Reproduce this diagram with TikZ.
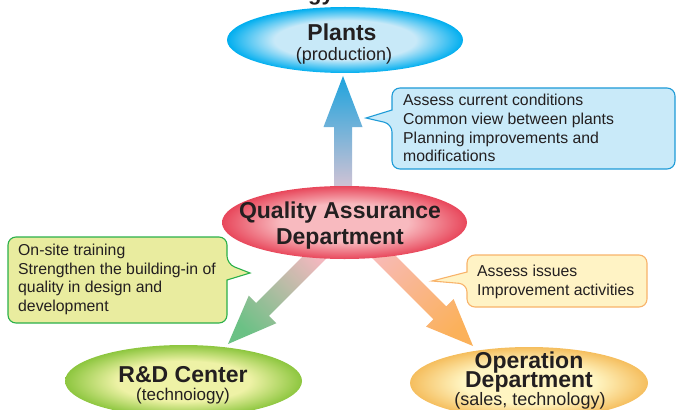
\documentclass[tikz,border=0pt]{standalone}
\usepackage{fontspec}
\setmainfont{Liberation Sans}
\usetikzlibrary{shapes.geometric}
\definecolor{plantin}{HTML}{C8E9F8}
\definecolor{plantout}{HTML}{00AEEF}
\definecolor{qain}{HTML}{F8BABF}
\definecolor{qaout}{HTML}{E8475B}
\definecolor{rdin}{HTML}{EEF2A6}
\definecolor{rdout}{HTML}{8DC63F}
\definecolor{opin}{HTML}{FFF5C2}
\definecolor{opout}{HTML}{F5BE5E}
\definecolor{cbfill}{HTML}{C9EAF9}
\definecolor{cbdraw}{HTML}{1E9BD7}
\definecolor{cgfill}{HTML}{E9EC9F}
\definecolor{cgdraw}{HTML}{2BB04A}
\definecolor{cofill}{HTML}{FFF3C5}
\definecolor{codraw}{HTML}{F8B36A}
\definecolor{arrB}{HTML}{1DA3DD}
\definecolor{arrP}{HTML}{E6C6D3}
\definecolor{arrPk}{HTML}{F3B8BF}
\definecolor{arrG}{HTML}{6BC185}
\definecolor{arrPo}{HTML}{F8BAB6}
\definecolor{arrO}{HTML}{FBB15A}
\definecolor{txt}{HTML}{231F20}
\pgfdeclareradialshading{plantshade}{\pgfpoint{0bp}{0bp}}{color(0bp)=(plantin); color(15bp)=(plantin); color(25bp)=(plantout); color(50bp)=(plantout)}
\pgfdeclareradialshading{qashade}{\pgfpoint{0bp}{0bp}}{color(0bp)=(qain); color(13bp)=(qain); color(25bp)=(qaout); color(50bp)=(qaout)}
\pgfdeclareradialshading{rdshade}{\pgfpoint{0bp}{0bp}}{color(0bp)=(rdin); color(14bp)=(rdin); color(25bp)=(rdout); color(50bp)=(rdout)}
\pgfdeclareradialshading{opshade}{\pgfpoint{0bp}{0bp}}{color(0bp)=(opin); color(14bp)=(opin); color(25bp)=(opout); color(50bp)=(opout)}
\tikzset{
  oval/.style={ellipse, inner sep=0pt, outer sep=0pt, draw=none, shade},
  ttl/.style={anchor=base, inner sep=0pt, text=txt, font=\fontsize{23}{26}\selectfont\bfseries},
  sub/.style={anchor=base, inner sep=0pt, text=txt, font=\fontsize{18}{20}\selectfont},
  ctext/.style={anchor=west, inner sep=0pt, align=left, text=txt, font=\fontsize{15.8}{18.8}\selectfont},
  callB/.style={fill=cbfill, draw=cbdraw, line width=1.1pt},
  callG/.style={fill=cgfill, draw=cgdraw, line width=1.1pt},
  callO/.style={fill=cofill, draw=codraw, line width=1.1pt},
}
\begin{document}
\begin{tikzpicture}[x=1pt,y=-1pt]
\useasboundingbox (0,0) rectangle (676,409);
% title fragment
\node[ttl, font=\fontsize{22}{24}\selectfont\bfseries] (titlefrag) at (321,1) {gy};
% arrows
\shade[top color=arrB, bottom color=arrP] (334,200) -- (334,127) -- (323.5,127) -- (343,76) -- (362.5,127) -- (352,127) -- (352,200) -- cycle;
\shade[top color=arrPk, bottom color=arrG, shading angle=-45] (318.6,240.6) -- (256.2,303) -- (248.8,295.6) -- (228,344) -- (276.4,323.2) -- (269,315.8) -- (331.4,253.4) -- cycle;
\shade[top color=arrPo, bottom color=arrO, shading angle=45] (376.4,236.6) -- (446.2,306.4) -- (453.6,299) -- (473,346) -- (426,326.6) -- (433.4,319.2) -- (363.6,249.4) -- cycle;
% ovals
\node[oval, shading=plantshade, minimum width=236pt, minimum height=66pt] (plants) at (345,40) {};
\node[oval, shading=qashade, minimum width=245pt, minimum height=73pt] (qa) at (344.5,222.5) {};
\node[oval, shading=rdshade, minimum width=237pt, minimum height=72pt] (rd) at (183.5,381) {};
\node[oval, shading=opshade, minimum width=238pt, minimum height=72pt] (op) at (529,383) {};
% oval texts
\node[ttl, font=\fontsize{23}{26}\selectfont\bfseries] (plantsT) at (342,41) {Plants};
\node[sub] (plantsS) at (344,61) {(production)};
\node[ttl] (qaT1) at (340,218) {Quality Assurance};
\node[ttl] (qaT2) at (340,244) {Department};
\node[ttl] (rdT) at (183,382) {R\&D Center};
\node[sub, font=\fontsize{17}{20}\selectfont] (rdS) at (183,400) {(technoiogy)};
\node[ttl] (opT1) at (529,368) {Operation};
\node[ttl] (opT2) at (529,387) {Department};
\node[sub] (opS) at (530,405) {(sales, technology)};
% callouts
\draw[callB] (500,88) [rounded corners=8] -- (675,88) -- (675,169) -- (392,169) -- (392,124) [sharp corners] -- (366,118) -- (392,110) [rounded corners=8] -- (392,88) -- cycle;
\node[ctext] (cb) at (403,128) {Assess current conditions\\Common view between plants\\Planning improvements and\\modifications};
\draw[callG] (100,237) [rounded corners=8] -- (227,237) -- (227,264) [sharp corners] -- (250,273) -- (227,280) [rounded corners=8] -- (227,323) -- (8,323) -- (8,237) -- cycle;
\node[ctext] (cg) at (18,279.5) {On-site training\\Strengthen the building-in of\\quality in design and\\development};
\draw[callO] (550,255) [rounded corners=8] -- (647,255) -- (647,307) -- (467,307) -- (467,284) [sharp corners] -- (432,281) -- (467,272) [rounded corners=8] -- (467,255) -- cycle;
\node[ctext] (co) at (477,282) {Assess issues\\Improvement activities};
\end{tikzpicture}
\end{document}
